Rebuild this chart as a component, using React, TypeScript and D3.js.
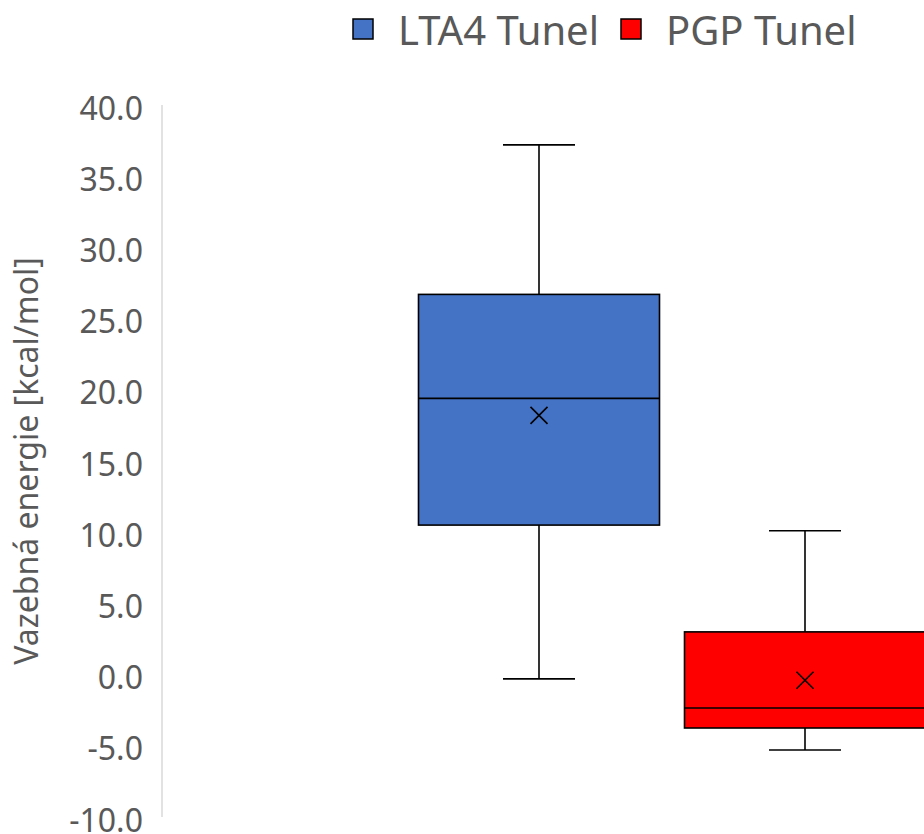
import React from "react";
import * as d3 from "d3";

const series = ["LTA4 Tunel", "PGP Tunel"];
const colors = ["#4472C4", "#FF0000"];
const minVals = [-0.3, -5.3];
const q1Vals = [10.5, -3.75];
const medianVals = [19.4, -2.35];
const q3Vals = [26.7, 3.0];
const maxVals = [37.2, 10.1];
const meanVals = [18.2, -0.4];
const yTicks = [-10, -5, 0, 5, 10, 15, 20, 25, 30, 35, 40];
const yTitle = "Vazebná energie [kcal/mol]";

const W = 924;
const H = 834;
const FONT = "'Noto Sans', 'Open Sans', sans-serif";

export default function App() {
  const y = d3.scaleLinear().domain([-10, 40]).range([817, 105]);
  const x = d3.scalePoint<string>().domain(series).range([539, 805]);
  const boxW = 241;
  const capW = 72;
  const xs = 8.5;
  const fmt = (v: number) => d3.format(".1f")(v).replace("\u2212", "-");

  return (
    <svg
      width={W}
      height={H}
      style={{ position: "absolute", left: 0, top: 0, background: "#fff" }}
      fontFamily={FONT}
    >
      {/* legend */}
      {series.map((s, i) => {
        const lx = [353, 621][i];
        return (
          <g key={s}>
            <rect x={lx} y={19} width={20} height={20} fill={colors[i]} stroke="#000" strokeWidth={1.5} />
            <text x={lx + 45} y={45} fontSize={40} fill="#595959">
              {s}
            </text>
          </g>
        );
      })}

      {/* y axis */}
      <line x1={162} x2={162} y1={y(40)} y2={y(-10)} stroke="#d9d9d9" strokeWidth={1.5} />
      {yTicks.map((t) => (
        <text key={t} x={143} y={y(t) + 14.5} textAnchor="end" fontSize={32} fill="#595959">
          {fmt(t)}
        </text>
      ))}
      <text
        transform={`translate(38, ${(y(40) + y(-10)) / 2}) rotate(-90)`}
        textAnchor="middle"
        fontSize={32}
        fill="#595959"
      >
        {yTitle}
      </text>

      {/* boxes */}
      {series.map((s, i) => {
        const cx = x(s) as number;
        return (
          <g key={s} stroke="#000" strokeWidth={1.6}>
            <line x1={cx} x2={cx} y1={y(maxVals[i])} y2={y(q3Vals[i])} />
            <line x1={cx} x2={cx} y1={y(q1Vals[i])} y2={y(minVals[i])} />
            <line x1={cx - capW / 2} x2={cx + capW / 2} y1={y(maxVals[i])} y2={y(maxVals[i])} />
            <line x1={cx - capW / 2} x2={cx + capW / 2} y1={y(minVals[i])} y2={y(minVals[i])} />
            <rect
              x={cx - boxW / 2}
              y={y(q3Vals[i])}
              width={boxW}
              height={y(q1Vals[i]) - y(q3Vals[i])}
              fill={colors[i]}
            />
            <line x1={cx - boxW / 2} x2={cx + boxW / 2} y1={y(medianVals[i])} y2={y(medianVals[i])} />
            <line x1={cx - xs} x2={cx + xs} y1={y(meanVals[i]) - xs} y2={y(meanVals[i]) + xs} />
            <line x1={cx - xs} x2={cx + xs} y1={y(meanVals[i]) + xs} y2={y(meanVals[i]) - xs} />
          </g>
        );
      })}
    </svg>
  );
}
